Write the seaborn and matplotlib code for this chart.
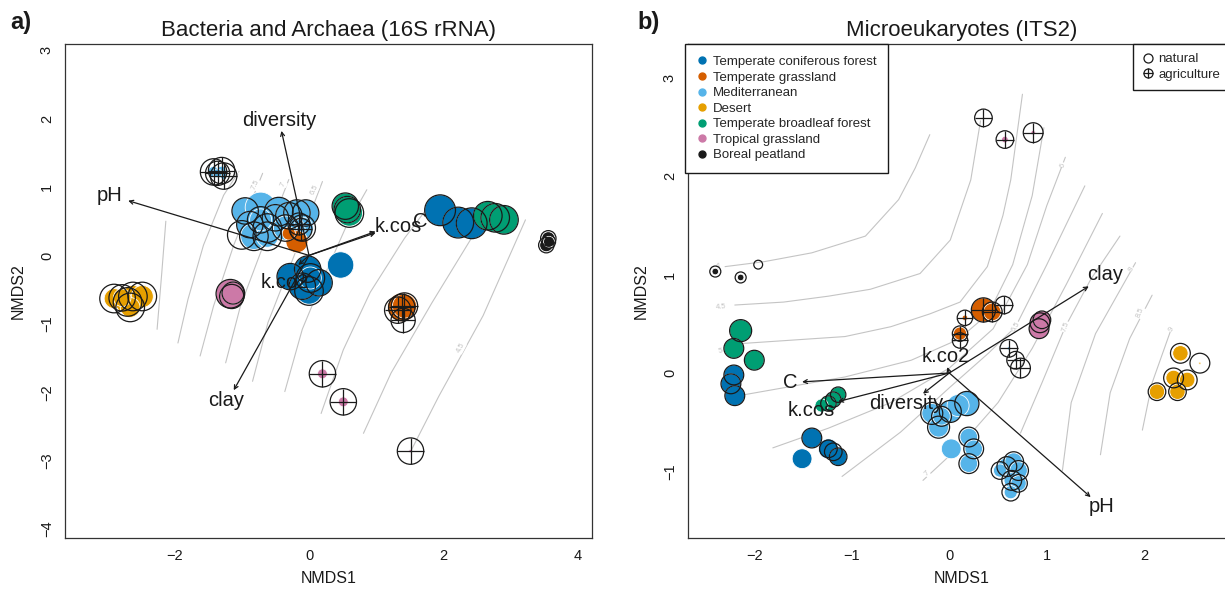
import numpy as np
import pandas as pd
import matplotlib
matplotlib.use('Agg')
import matplotlib.pyplot as plt
from matplotlib.lines import Line2D
from matplotlib.legend_handler import HandlerTuple
import seaborn as sns

# biome codes -> names / colours
biome_codes = ['C', 'G', 'M', 'D', 'B', 'T', 'P']
biome_names = ['Temperate coniferous forest', 'Temperate grassland', 'Mediterranean',
               'Desert', 'Temperate broadleaf forest', 'Tropical grassland', 'Boreal peatland']
biome_colors = ['#0072B2', '#D55E00', '#56B4E9', '#E69F00', '#009E73', '#CC79A7', '#1a1a1a']

# ---- panel a : Bacteria and Archaea (16S rRNA) ----
a_x = [-2.90, -2.70, -2.62, -2.48, -2.66, -2.78,
       -1.42, -1.30, -1.27, -1.36,
       -0.95, -0.72, -0.45, -0.05, -0.88, -0.62, -0.50, -0.82, -1.00, -0.62, -0.30, -0.18, -0.10, -0.72, -0.35,
       -0.15, -0.12,
       -0.18, -0.30, 1.38, 1.42, 1.40, 1.32,
       -0.28, -0.02, 0.00, 0.15, -0.10, 0.02, 0.47, 1.95, 2.22, 2.42,
       0.54, 0.60, 0.57, 2.66, 2.77, 2.90,
       -1.17, -1.15, -1.13, 0.20, 0.51, 1.51,
       3.56, 3.53, 3.57]
a_y = [-0.63, -0.68, -0.60, -0.60, -0.76, -0.62,
       1.22, 1.24, 1.16, 1.20,
       0.65, 0.70, 0.64, 0.62, 0.45, 0.40, 0.55, 0.28, 0.30, 0.28, 0.58, 0.62, 0.40, 0.52, 0.40,
       0.46, 0.38,
       0.20, 0.32, -0.76, -0.74, -0.95, -0.80,
       -0.31, -0.20, -0.52, -0.40, -0.45, -0.33, -0.14, 0.66, 0.48, 0.47,
       0.72, 0.62, 0.67, 0.58, 0.55, 0.52,
       -0.56, -0.60, -0.55, -1.73, -2.14, -2.86,
       0.25, 0.15, 0.20]
a_biome = list('DDDDDD' 'MMMM' 'MMMMMMMMMMMMMMM' 'MM' 'GGGGGG' 'CCCCCCCCCC' 'BBBBBB' 'TTTTTT' 'PPP')
a_agri = [0] * 6 + [1] * 4 + [0] * 15 + [1] * 2 + [0, 0, 1, 1, 1, 1] + [0] * 10 + [0] * 6 + [0, 0, 0, 1, 1, 1] + [0] * 3
a_fill = [1.8, 2.2, 2.0, 2.0, 1.8, 1.6,
          1.0, 0.8, 0.6, 0.8,
          2.4, 2.8, 2.6, 2.4, 2.4, 2.8, 2.4, 2.4, 0, 2.0, 2.4, 2.4, 2.0, 2.0, 2.2,
          0.8, 0.8,
          2.0, 1.2, 2.6, 2.2, 0, 0,
          2.4, 2.4, 2.4, 2.4, 2.4, 2.0, 2.4, 2.8, 2.8, 2.8,
          2.4, 2.4, 2.4, 2.6, 2.6, 2.6,
          2.6, 2.2, 2.0, 0.9, 0.9, 0.3,
          1.2, 1.2, 1.0]
a_ring = [2.6, 2.6, 2.6, 2.6, 2.6, 2.4,
          2.4, 2.4, 2.4, 2.2,
          2.4, 0, 2.6, 2.4, 2.4, 2.6, 2.4, 2.6, 2.6, 2.6, 2.4, 2.4, 2.4, 2.4, 2.4,
          2.0, 2.0,
          0, 0, 2.4, 2.4, 2.2, 2.4,
          2.4, 2.4, 2.6, 2.4, 2.4, 2.6, 0, 2.8, 2.8, 2.8,
          2.4, 2.6, 2.4, 2.6, 2.6, 2.6,
          2.6, 2.2, 2.0, 2.4, 2.4, 2.4,
          1.4, 1.4, 1.2]

a_vectors = ['pH', 'diversity', 'k.cos', 'C', 'k.co2', 'clay']
a_vec_x = [-2.69, -0.41, 0.99, 0.99, -0.16, -1.12]
a_vec_y = [0.80, 1.82, 0.33, 0.35, -0.14, -1.97]
a_lab_x = [-2.97, -0.45, 1.33, 1.66, -0.36, -1.23]
a_lab_y = [0.87, 1.97, 0.42, 0.49, -0.39, -2.12]

a_contours = {
    '8.5': [(-2.26, -1.08), (-2.19, -0.25), (-2.13, 0.50)],
    '8': [(-1.95, -1.28), (-1.80, -0.64), (-1.57, 0.15), (-1.27, 0.88), (-1.04, 1.23)],
    '7.5': [(-1.62, -1.47), (-1.42, -0.74), (-1.12, 0.15), (-0.69, 1.20)],
    '7': [(-1.24, -1.57), (-1.02, -0.74), (-0.66, 0.20), (-0.30, 1.11)],
    '6.5': [(-0.84, -1.84), (-0.61, -0.98), (-0.20, 0.05), (0.20, 1.08)],
    '6': [(-0.36, -1.99), (-0.10, -1.08), (0.25, -0.25), (0.56, 0.44), (0.86, 0.96)],
    '5.5': [(0.18, -2.31), (0.51, -1.38), (0.91, -0.54), (1.42, 0.25), (1.85, 0.81)],
    '5': [(0.81, -2.60), (1.22, -1.72), (1.83, -0.69), (2.44, 0.29)],
    '4.5': [(1.52, -2.85), (1.93, -2.06), (2.59, -0.88), (3.22, 0.52)],
}
a_clabels = [('8', -1.07, 1.18, 65), ('7.5', -0.79, 1.03, 65), ('7', -0.38, 1.04, 65),
             ('6.5', 0.08, 0.96, 65), ('4.5', 2.26, -1.35, 62)]

# ---- panel b : Microeukaryotes (ITS2) ----
b_x = [-2.40, -2.14, -1.96,
       -2.14, -2.21, -2.00,
       -2.21, -2.24, -2.20,
       -1.14, -1.19, -1.24, -1.31,
       -1.41, -1.51, -1.24, -1.19, -1.14,
       0.18, 0.01, -0.18, -0.11, -0.08, 0.09, 0.02, 0.20, 0.25, 0.20,
       0.59, 0.66, 0.71, 0.64, 0.71, 0.63, 0.52,
       0.61, 0.68, 0.73,
       0.35, 0.44, 0.56, 0.16, 0.11, 0.11,
       0.93, 0.92, 0.95, 0.35, 0.57, 0.86,
       2.37, 2.57, 2.30, 2.44, 2.13, 2.34]
b_y = [1.03, 0.97, 1.10,
       0.43, 0.25, 0.13,
       -0.02, -0.11, -0.23,
       -0.22, -0.27, -0.31, -0.33,
       -0.66, -0.87, -0.77, -0.80, -0.85,
       -0.31, -0.39, -0.41, -0.55, -0.44, -0.33, -0.77, -0.65, -0.77, -0.92,
       -0.95, -0.90, -0.99, -1.09, -1.12, -1.21, -0.99,
       0.25, 0.13, 0.05,
       0.64, 0.62, 0.69, 0.56, 0.40, 0.33,
       0.51, 0.45, 0.54, 2.59, 2.37, 2.44,
       0.20, 0.10, -0.05, -0.07, -0.19, -0.19]
b_biome = list('PPP' 'BBB' 'CCC' 'BBBB' 'CCCCC' 'MMMMMMMMMM' 'MMMMMMM' 'MMM' 'GGGGGG' 'TTTTTT' 'DDDDDD')
b_agri = [0] * 3 + [0] * 3 + [0] * 3 + [0] * 4 + [0] * 5 + [0] * 10 + [0] * 7 + [1] * 3 + [1] * 6 + [0, 0, 0, 1, 1, 1] + [0] * 6
b_fill = [0.6, 0.6, 0,
          2.0, 1.8, 1.8,
          1.8, 1.8, 1.8,
          1.4, 1.4, 1.4, 1.2,
          1.8, 1.8, 1.8, 0, 1.6,
          2.2, 2.0, 1.8, 1.8, 1.6, 2.0, 1.8, 1.6, 1.6, 1.6,
          1.6, 1.6, 1.6, 1.4, 1.4, 1.2, 1.2,
          0.3, 0.3, 0.2,
          2.2, 1.6, 0, 0.5, 1.2, 0,
          1.8, 1.8, 1.6, 0, 0.6, 0.4,
          1.4, 0.2, 1.4, 1.4, 1.4, 1.4]
b_ring = [1.0, 1.0, 0.8,
          2.0, 1.8, 1.8,
          1.8, 1.8, 1.8,
          1.4, 1.4, 1.4, 0,
          1.8, 0, 1.6, 1.6, 1.6,
          2.2, 2.0, 2.0, 2.0, 1.8, 0, 0, 1.8, 1.8, 1.8,
          1.8, 1.8, 1.8, 1.8, 1.6, 1.6, 1.6,
          1.6, 1.6, 1.8,
          2.2, 1.8, 1.6, 1.4, 1.4, 1.4,
          1.8, 1.8, 1.6, 1.6, 1.6, 1.8,
          1.8, 1.8, 1.8, 1.8, 1.6, 1.6]

b_vectors = ['clay', 'pH', 'C', 'k.cos', 'diversity', 'k.co2']
b_vec_x = [1.43, 1.45, -1.51, -1.14, -0.27, -0.02]
b_vec_y = [0.88, -1.26, -0.09, -0.29, -0.21, 0.06]
b_lab_x = [1.60, 1.56, -1.63, -1.42, -0.44, -0.04]
b_lab_y = [1.00, -1.36, -0.10, -0.38, -0.31, 0.17]

b_contours = {
    '4': [(-2.30, 1.08), (-1.90, 1.13), (-1.41, 1.22), (-0.86, 1.39), (-0.52, 1.76), (-0.35, 2.08), (-0.20, 2.42)],
    '4.5': [(-2.20, 0.69), (-1.70, 0.72), (-1.24, 0.78), (-0.81, 0.85), (-0.30, 1.01), (0.01, 1.35), (0.22, 1.96), (0.32, 2.56)],
    '5': [(-2.12, 0.30), (-1.07, 0.37), (-0.60, 0.47), (-0.20, 0.60), (0.11, 0.72), (0.39, 1.08), (0.55, 1.60), (0.63, 1.96), (0.75, 2.83)],
    '5.5': [(-2.10, -0.22), (-1.07, -0.04), (-0.39, 0.13), (0.09, 0.34), (0.40, 0.60), (0.65, 1.10), (0.85, 1.80), (0.97, 2.49)],
    '6': [(-1.81, -0.76), (-1.24, -0.56), (-0.60, -0.30), (0.00, 0.05), (0.45, 0.45), (0.80, 1.10), (1.00, 1.70), (1.19, 2.19)],
    '6.5': [(-1.10, -1.05), (-0.50, -0.60), (0.00, -0.15), (0.40, 0.20), (0.68, 0.47), (1.00, 1.10), (1.39, 1.90)],
    '7': [(-0.27, -1.09), (0.10, -0.75), (0.50, -0.30), (0.85, 0.25), (1.20, 0.90), (1.57, 1.62)],
    '7.5': [(0.73, -0.61), (0.95, -0.10), (1.19, 0.47), (1.45, 0.95), (1.75, 1.39)],
    '8': [(1.16, -0.99), (1.25, -0.30), (1.50, 0.40), (1.91, 1.12)],
    '8.5': [(1.55, -0.83), (1.65, -0.20), (1.85, 0.35), (2.08, 0.79)],
    '9': [(1.98, -0.58), (2.08, -0.10), (2.27, 0.43)],
}
b_clabels = [('4', -2.37, 1.08, 5), ('4.5', -2.34, 0.67, 5), ('5', -2.35, 0.22, 10),
             ('6', 1.17, 2.11, 70), ('6.5', 0.68, 0.47, 60), ('7', -0.23, -1.02, 45),
             ('7.5', 1.19, 0.47, 72), ('8', 1.87, 1.05, 60), ('8.5', 1.96, 0.61, 68), ('9', 2.28, 0.44, 58)]

INK = '#1a1a1a'
PX_PER_CEX = 11.0


def cex_to_s(c):
    return (np.asarray(c) * PX_PER_CEX * 0.72) ** 2


def make_df(x, y, biome, agri, fill, ring):
    name = dict(zip(biome_codes, biome_names))
    df = pd.DataFrame({'x': x, 'y': y, 'biome': [name[b] for b in biome],
                       'agri': agri, 'fill': fill, 'ring': ring})
    df['fs'] = cex_to_s(df['fill'])
    df['rs'] = cex_to_s(df['ring'])
    return df


def draw_panel(ax, df, contours, clabels, vnames, vx, vy, lx, ly, xlim, ylim, xticks, yticks, title):
    ax.set_xlim(*xlim)
    ax.set_ylim(*ylim)

    for lev, pts in contours.items():
        pts = np.array(pts)
        ax.plot(pts[:, 0], pts[:, 1], color='#c4c4c4', lw=0.8, zorder=1)
    for txt, x, y, rot in clabels:
        ax.text(x, y, txt, fontsize=5.5, color='#c4c4c4', rotation=rot, ha='center', va='center',
                zorder=1.5, bbox=dict(facecolor='white', edgecolor='none', pad=0.3))

    pal = dict(zip(biome_names, biome_colors))
    f = df[df['fill'] > 0]
    sns.scatterplot(data=f, x='x', y='y', hue='biome', palette=pal, size='fs',
                    sizes=(f['fs'].min(), f['fs'].max()), size_norm=(f['fs'].min(), f['fs'].max()),
                    edgecolor='white', linewidth=0.6, legend=False, ax=ax, zorder=3)

    r = df[df['ring'] > 0]
    ax.scatter(r['x'], r['y'], s=r['rs'], marker='o', facecolors='none', edgecolors=INK,
               linewidths=0.9, zorder=4)
    ra = r[r['agri'] == 1]
    ax.scatter(ra['x'], ra['y'], s=ra['rs'], marker='+', color=INK, linewidths=0.9, zorder=4)

    for name, tx, ty, px, py in zip(vnames, vx, vy, lx, ly):
        ax.annotate('', xy=(tx, ty), xytext=(0, 0),
                    arrowprops=dict(arrowstyle='->', color=INK, lw=0.9, shrinkA=0, shrinkB=0,
                                    mutation_scale=7), zorder=5)
        ax.text(px, py, name, fontsize=14.5, color=INK, ha='center', va='center', zorder=6)

    ax.set_xticks(xticks)
    ax.set_yticks(yticks)
    ax.tick_params(axis='both', direction='out', length=5, width=0.8, color=INK,
                   labelsize=10.5, labelcolor=INK, pad=3)
    ax.tick_params(axis='y', labelrotation=90)
    for lab in ax.get_yticklabels():
        lab.set_va('center')
    for sp in ax.spines.values():
        sp.set_visible(True)
        sp.set_color('#333333')
        sp.set_linewidth(0.9)
    ax.set_xlabel('NMDS1', fontsize=11.5, color=INK, labelpad=6)
    ax.set_ylabel('NMDS2', fontsize=11.5, color=INK, labelpad=10)
    ax.set_title(title, fontsize=16, color=INK, pad=6)


sns.set_theme(style='white')
plt.rcParams['font.family'] = ['Liberation Sans', 'DejaVu Sans']
plt.rcParams['axes.unicode_minus'] = True

fig = plt.figure(figsize=(12.25, 5.9), dpi=100)
ax_a = fig.add_axes([65 / 1225, 1 - 538 / 590, 527 / 1225, 494 / 590])
ax_b = fig.add_axes([688 / 1225, 1 - 538 / 590, 547 / 1225, 494 / 590])

df_a = make_df(a_x, a_y, a_biome, a_agri, a_fill, a_ring)
df_b = make_df(b_x, b_y, b_biome, b_agri, b_fill, b_ring)

draw_panel(ax_a, df_a, a_contours, a_clabels, a_vectors, a_vec_x, a_vec_y, a_lab_x, a_lab_y,
           (-3.63, 4.21), (-4.13, 3.09), [-2, 0, 2, 4], list(range(-4, 4)),
           'Bacteria and Archaea (16S rRNA)')
draw_panel(ax_b, df_b, b_contours, b_clabels, b_vectors, b_vec_x, b_vec_y, b_lab_x, b_lab_y,
           (-2.68, 2.93), (-1.675, 3.34), [-2, -1, 0, 1, 2], [-1, 0, 1, 2, 3],
           'Microeukaryotes (ITS2)')

# legends in panel b
leg_kw = dict(frameon=True, fancybox=False, framealpha=1, edgecolor=INK, fontsize=9.5,
              handlelength=0.8, handletextpad=0.4, labelspacing=0.25, borderpad=0.9,
              borderaxespad=0)
h1 = [Line2D([], [], ls='', marker='o', markersize=5, color=c, label=n)
      for n, c in zip(biome_names, biome_colors)]
leg1 = ax_b.legend(handles=h1, loc='upper left', bbox_to_anchor=(-0.005, 1), **leg_kw)
leg1.get_frame().set_linewidth(1.0)
ax_b.add_artist(leg1)

h_nat = Line2D([], [], ls='', marker='o', markersize=6.5, markerfacecolor='none',
               markeredgecolor=INK, markeredgewidth=0.9)
h_agr_o = Line2D([], [], ls='', marker='o', markersize=6.5, markerfacecolor='none',
                 markeredgecolor=INK, markeredgewidth=0.9)
h_agr_p = Line2D([], [], ls='', marker='+', markersize=6.5, color=INK, markeredgewidth=0.9)
leg2_kw = dict(leg_kw, borderpad=0.7)
leg2 = ax_b.legend([h_nat, (h_agr_o, h_agr_p)], ['natural', 'agriculture'],
                   handler_map={tuple: HandlerTuple(ndivide=1, pad=0)},
                   loc='upper left', bbox_to_anchor=((1133 - 688) / 547, 1), **leg2_kw)
leg2.get_frame().set_linewidth(1.0)

fig.text(10 / 1225, 1 - 22 / 590, 'a)', fontsize=17, fontweight='bold', color=INK, va='center')
fig.text(637 / 1225, 1 - 22 / 590, 'b)', fontsize=17, fontweight='bold', color=INK, va='center')

fig.savefig('out.png', dpi=100)
